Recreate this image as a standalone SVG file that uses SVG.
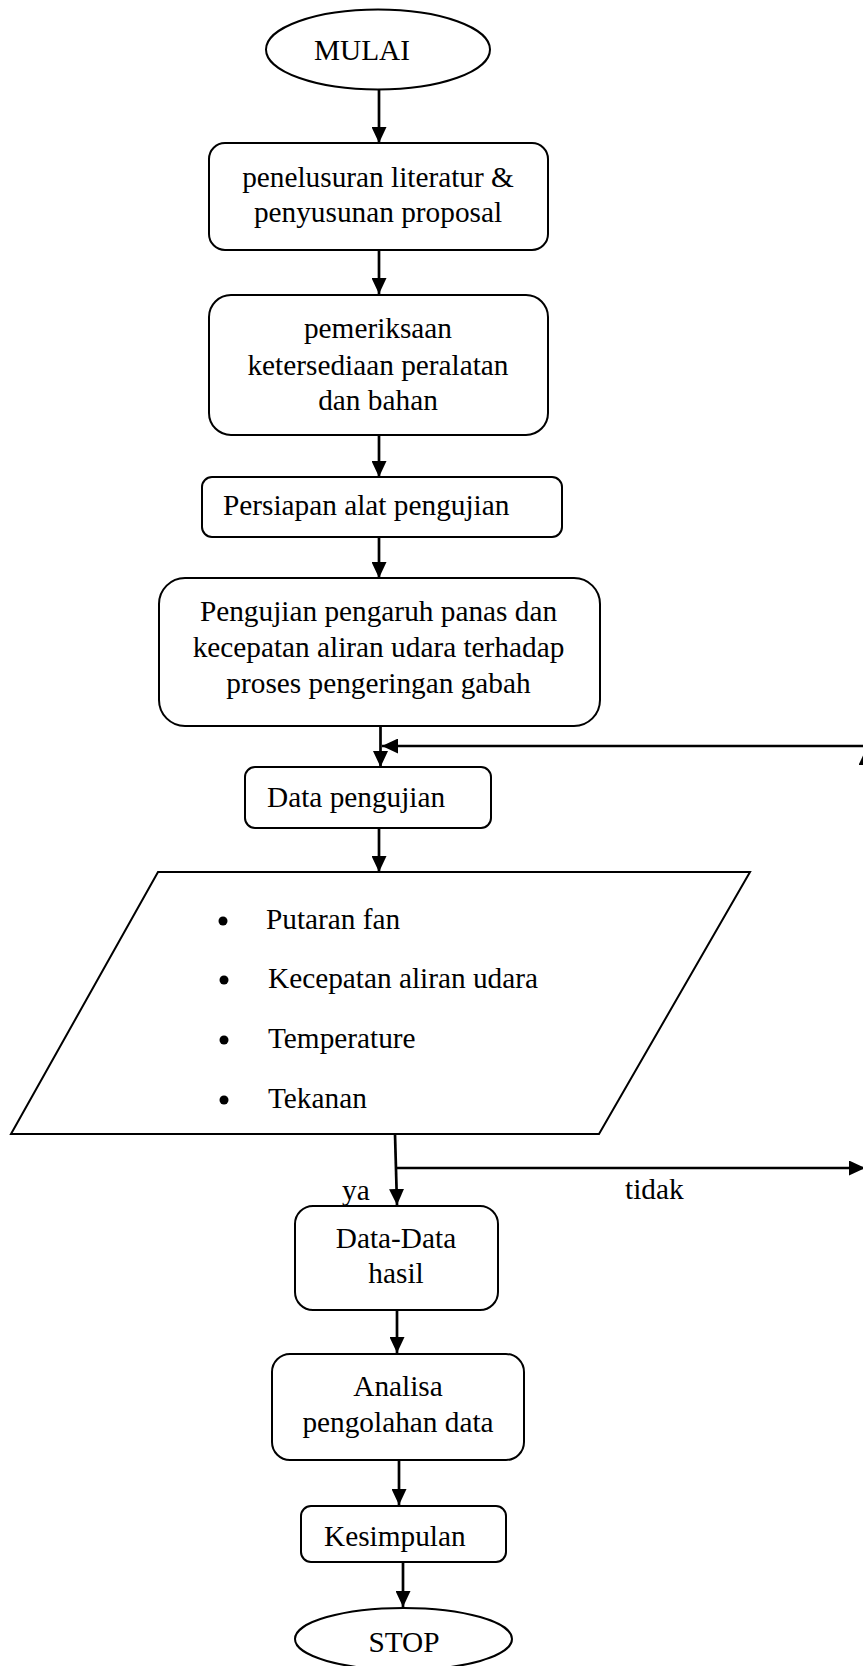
<svg xmlns="http://www.w3.org/2000/svg" width="863" height="1666" viewBox="0 0 863 1666">
  <style>
    .shape { fill: #ffffff; stroke: #000000; stroke-width: 2; }
    .conn { fill: none; stroke: #000000; stroke-width: 2.7; }
    .t { font-family: "Liberation Serif", "Times New Roman", serif; font-size: 29.3px; fill: #000000; }
    .c { text-anchor: middle; }
    .dot { fill: #000000; }
  </style>
  <defs>
    <marker id="arr" markerUnits="userSpaceOnUse" markerWidth="16" markerHeight="15" refX="16" refY="7.5" orient="auto">
      <path d="M0,0 L16,7.5 L0,15 Z" fill="#000000"/>
    </marker>
  </defs>
  <rect x="0" y="0" width="863" height="1666" fill="#ffffff"/>

  <g id="connectors">
    <line class="conn" x1="379" y1="90" x2="379" y2="143" marker-end="url(#arr)"/>
    <line class="conn" x1="379" y1="250" x2="379" y2="294" marker-end="url(#arr)"/>
    <line class="conn" x1="379" y1="435" x2="379" y2="477" marker-end="url(#arr)"/>
    <line class="conn" x1="379" y1="537" x2="379" y2="578" marker-end="url(#arr)"/>
    <line class="conn" x1="380.5" y1="726" x2="380.5" y2="767" marker-end="url(#arr)"/>
    <line class="conn" x1="870" y1="746" x2="382" y2="746" marker-end="url(#arr)"/>
    <line class="conn" x1="866" y1="1168" x2="866" y2="749" marker-end="url(#arr)"/>
    <line class="conn" x1="379" y1="828" x2="379" y2="872" marker-end="url(#arr)"/>
    <line class="conn" x1="395" y1="1134" x2="397" y2="1205" marker-end="url(#arr)"/>
    <line class="conn" x1="396" y1="1168" x2="865" y2="1168" marker-end="url(#arr)"/>
    <line class="conn" x1="397" y1="1310" x2="397" y2="1353" marker-end="url(#arr)"/>
    <line class="conn" x1="399" y1="1460" x2="399" y2="1505" marker-end="url(#arr)"/>
    <line class="conn" x1="403" y1="1562" x2="403" y2="1607" marker-end="url(#arr)"/>
    <text class="t" x="342" y="1200">ya</text>
    <text class="t" x="625" y="1199">tidak</text>
  </g>

  <g id="mulai">
    <ellipse class="shape" cx="378" cy="49.5" rx="112" ry="40"/>
    <text class="t c" x="362" y="60">MULAI</text>
  </g>

  <g id="penelusuran">
    <rect class="shape" x="209" y="143" width="339" height="107" rx="16"/>
    <text class="t c" x="378" y="187">penelusuran literatur &amp;</text>
    <text class="t c" x="378" y="222">penyusunan proposal</text>
  </g>

  <g id="pemeriksaan">
    <rect class="shape" x="209" y="295" width="339" height="140" rx="22"/>
    <text class="t c" x="378" y="338">pemeriksaan</text>
    <text class="t c" x="378" y="375">ketersediaan peralatan</text>
    <text class="t c" x="378" y="410">dan bahan</text>
  </g>

  <g id="persiapan">
    <rect class="shape" x="202" y="477" width="360" height="60" rx="10"/>
    <text class="t" x="223" y="515">Persiapan alat pengujian</text>
  </g>

  <g id="pengujian">
    <rect class="shape" x="159" y="578" width="441" height="148" rx="26"/>
    <text class="t c" x="378.5" y="621">Pengujian pengaruh panas dan</text>
    <text class="t c" x="378.5" y="657">kecepatan aliran udara terhadap</text>
    <text class="t c" x="378.5" y="693">proses pengeringan gabah</text>
  </g>

  <g id="data-pengujian">
    <rect class="shape" x="245" y="767" width="246" height="61" rx="10"/>
    <text class="t" x="267" y="807">Data pengujian</text>
  </g>

  <g id="parameter">
    <polygon class="shape" points="158,872 750,872 599,1134 11,1134"/>
    <circle class="dot" cx="223" cy="921" r="4.5"/>
    <circle class="dot" cx="224" cy="980" r="4.5"/>
    <circle class="dot" cx="224" cy="1040" r="4.5"/>
    <circle class="dot" cx="224" cy="1100" r="4.5"/>
    <text class="t" x="266" y="929">Putaran fan</text>
    <text class="t" x="268" y="988">Kecepatan aliran udara</text>
    <text class="t" x="268" y="1048">Temperature</text>
    <text class="t" x="268" y="1108">Tekanan</text>
  </g>

  <g id="data-hasil">
    <rect class="shape" x="295" y="1206" width="203" height="104" rx="18"/>
    <text class="t c" x="396" y="1248">Data-Data</text>
    <text class="t c" x="396" y="1283">hasil</text>
  </g>

  <g id="analisa">
    <rect class="shape" x="272" y="1354" width="252" height="106" rx="18"/>
    <text class="t c" x="398" y="1396">Analisa</text>
    <text class="t c" x="398" y="1432">pengolahan data</text>
  </g>

  <g id="kesimpulan">
    <rect class="shape" x="301" y="1506" width="205" height="56" rx="10"/>
    <text class="t" x="324" y="1546">Kesimpulan</text>
  </g>

  <g id="stop">
    <ellipse class="shape" cx="403.5" cy="1639" rx="108.5" ry="31"/>
    <text class="t c" x="404" y="1652">STOP</text>
  </g>
</svg>
